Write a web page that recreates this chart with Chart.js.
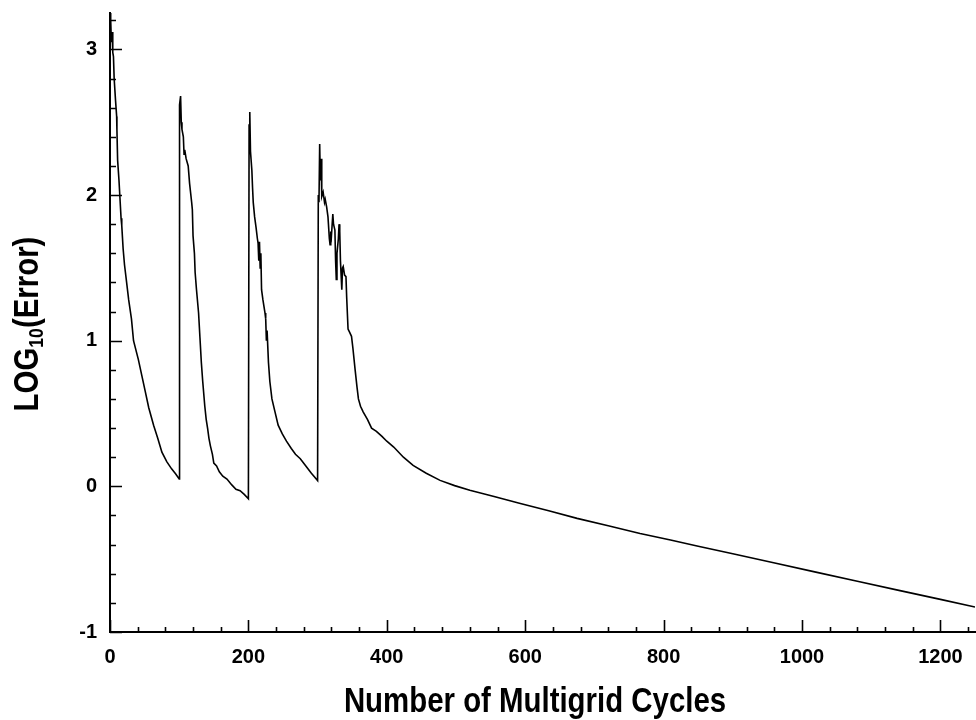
<!DOCTYPE html>
<html>
<head>
<meta charset="utf-8">
<script src="https://cdn.jsdelivr.net/npm/chart.js@4/dist/chart.umd.min.js"></script>
<style>
  html, body { margin: 0; padding: 0; background: #fff; }
  #wrap { width: 976px; height: 720px; }
</style>
</head>
<body>
<div id="wrap"><canvas id="c" width="976" height="720"></canvas></div>
<script>
// Convergence history: multigrid cycle number and log10 of the error.
const cycles = [
  0, 1, 2, 3, 4, 5, 6, 8, 9.6, 10, 11, 13, 14.5, 16, 17, 19, 21, 24, 27, 31, 34, 41, 46, 51, 56, 63, 69, 75, 82, 89, 95, 100,
  100, 101, 102, 103, 104, 106, 107, 108, 110, 113, 115, 118, 119, 120, 122, 123, 125, 128, 130, 132, 134, 137, 139, 141, 143, 145, 148, 150, 154, 158, 163, 169, 176, 182, 188, 194, 200,
  200, 201, 202, 203, 205, 206, 207, 209, 211, 213, 214, 215, 216, 217, 218, 219, 221, 224, 225, 226, 227, 229, 231, 234, 238, 243, 249, 255, 262, 268, 275, 283, 291, 300,
  300, 301, 302, 303, 304, 305, 306, 308, 310, 311, 313, 315, 317, 318, 319, 320, 322, 323, 325, 326, 327, 328, 330, 331, 332, 333, 335, 336, 337, 339, 341, 342, 344, 346, 349, 351, 354, 357, 359, 362, 366, 372, 378, 385, 393, 400, 410, 424, 438, 457, 477, 498, 520, 555, 593, 634, 675, 720, 766, 810, 850, 900, 959, 1020, 1080, 1140, 1200, 1250
];
const logError = [
  3.25, 3.20, 3.05, 3.12, 2.98, 2.95, 2.80, 2.65, 2.54, 2.45, 2.24, 2.10, 1.97, 1.84, 1.79, 1.63, 1.52, 1.40, 1.28, 1.15, 1.00, 0.87, 0.76, 0.65, 0.54, 0.42, 0.33, 0.235, 0.17, 0.12, 0.085, 0.05,
  0.05, 2.62, 2.68, 2.50, 2.45, 2.40, 2.28, 2.31, 2.25, 2.20, 2.08, 1.95, 1.90, 1.72, 1.60, 1.47, 1.35, 1.19, 1.02, 0.85, 0.72, 0.55, 0.46, 0.40, 0.33, 0.28, 0.22, 0.16, 0.14, 0.10, 0.07, 0.05, 0.01, -0.02, -0.03, -0.055, -0.085,
  -0.085, 2.48, 2.57, 2.30, 2.17, 2.05, 1.95, 1.85, 1.78, 1.70, 1.67, 1.55, 1.68, 1.50, 1.60, 1.35, 1.28, 1.19, 1.15, 1.00, 1.07, 0.85, 0.72, 0.60, 0.52, 0.42, 0.36, 0.31, 0.26, 0.22, 0.19, 0.14, 0.09, 0.04,
  0.04, 2.00, 1.95, 2.35, 2.10, 2.25, 1.99, 2.02, 1.95, 1.97, 1.92, 1.85, 1.70, 1.66, 1.75, 1.72, 1.87, 1.80, 1.76, 1.55, 1.42, 1.60, 1.70, 1.80, 1.75, 1.55, 1.35, 1.50, 1.51, 1.45, 1.44, 1.30, 1.08, 1.06, 1.03, 0.95, 0.81, 0.68, 0.60, 0.55, 0.51, 0.46, 0.40, 0.378, 0.343, 0.31, 0.27, 0.20, 0.144, 0.09, 0.041, 0.005, -0.027, -0.07, -0.118, -0.168, -0.22, -0.27, -0.324, -0.368, -0.411, -0.463, -0.525, -0.589, -0.651, -0.714, -0.776, -0.828
];

// Labelled tick values on each axis
const xTickValues = [0, 200, 400, 600, 800, 1000, 1200];
const yTickValues = [-1, 0, 1, 2, 3];

const FONT = '"Liberation Sans", Arial, Helvetica, sans-serif';

// Inward major/minor tick marks and the two axis titles
const axisDecor = {
  id: 'axisDecor',
  afterDraw(chart) {
    const { ctx, chartArea, scales } = chart;
    const xs = scales.x, ys = scales.y;
    ctx.save();
    ctx.strokeStyle = '#000';
    ctx.lineWidth = 1.6;
    ctx.beginPath();
    for (let i = 0; i * 40 <= xs.max; i++) {
      const px = Math.round(xs.getPixelForValue(i * 40)) + 0.5;
      const len = (i % 5 === 0) ? 12 : 5;
      ctx.moveTo(px, chartArea.bottom);
      ctx.lineTo(px, chartArea.bottom - len);
    }
    for (let i = -5; i / 5 <= ys.max + 1e-9; i++) {
      const py = Math.round(ys.getPixelForValue(i / 5)) + 0.5;
      const len = (i % 5 === 0) ? 12 : 6;
      ctx.moveTo(chartArea.left, py);
      ctx.lineTo(chartArea.left + len, py);
    }
    ctx.stroke();

    ctx.fillStyle = '#000';
    ctx.textBaseline = 'alphabetic';

    // x title
    ctx.save();
    ctx.translate(535, 712);
    ctx.scale(0.84, 1);
    ctx.font = 'bold 35px ' + FONT;
    ctx.textAlign = 'center';
    ctx.fillText('Number of Multigrid Cycles', 0, 0);
    ctx.restore();

    // y title with subscript
    ctx.save();
    ctx.translate(38, 324);
    ctx.rotate(-Math.PI / 2);
    ctx.scale(0.84, 1);
    ctx.textAlign = 'left';
    const big = 'bold 35px ' + FONT, small = 'bold 21px ' + FONT;
    ctx.font = big; const w1 = ctx.measureText('LOG').width;
    ctx.font = small; const w2 = ctx.measureText('10').width;
    ctx.font = big; const w3 = ctx.measureText('(Error)').width;
    const x0 = -(w1 + w2 + w3) / 2;
    ctx.font = big; ctx.fillText('LOG', x0, 0);
    ctx.font = small; ctx.fillText('10', x0 + w1, 5);
    ctx.font = big; ctx.fillText('(Error)', x0 + w1 + w2, 0);
    ctx.restore();

    ctx.restore();
  }
};

const zeroPadding = s => { s.paddingTop = 0; s.paddingBottom = 0; s.paddingLeft = 0; s.paddingRight = 0; };

new Chart(document.getElementById('c'), {
  type: 'line',
  data: {
    datasets: [{
      data: cycles.map((c, i) => ({ x: c, y: logError[i] })),
      borderColor: '#000',
      borderWidth: 1.6,
      pointRadius: 0,
      tension: 0,
      fill: false
    }]
  },
  options: {
    responsive: false,
    animation: false,
    devicePixelRatio: 1,
    layout: { padding: { top: 13, right: 1, left: 0, bottom: 0 } },
    plugins: { legend: { display: false }, tooltip: { enabled: false } },
    scales: {
      x: {
        type: 'linear',
        min: 0,
        max: 1250,
        afterBuildTicks: s => { s.ticks = xTickValues.map(v => ({ value: v })); },
        afterFit: s => { s.height = 88; zeroPadding(s); },
        ticks: {
          color: '#000',
          font: { family: FONT, size: 20, weight: 'bold' },
          padding: 13,
          maxRotation: 0,
          autoSkip: false,
          callback: v => String(v)
        },
        grid: { drawOnChartArea: false, drawTicks: false },
        border: { color: '#000', width: 2 }
      },
      y: {
        type: 'linear',
        min: -1,
        max: 3.25,
        afterBuildTicks: s => { s.ticks = yTickValues.map(v => ({ value: v })); },
        afterFit: s => { s.width = 110; zeroPadding(s); },
        ticks: {
          color: '#000',
          font: { family: FONT, size: 20, weight: 'bold' },
          padding: 13,
          autoSkip: false,
          callback: v => String(v)
        },
        grid: { drawOnChartArea: false, drawTicks: false },
        border: { color: '#000', width: 2 }
      }
    }
  },
  plugins: [axisDecor]
});
</script>
</body>
</html>
